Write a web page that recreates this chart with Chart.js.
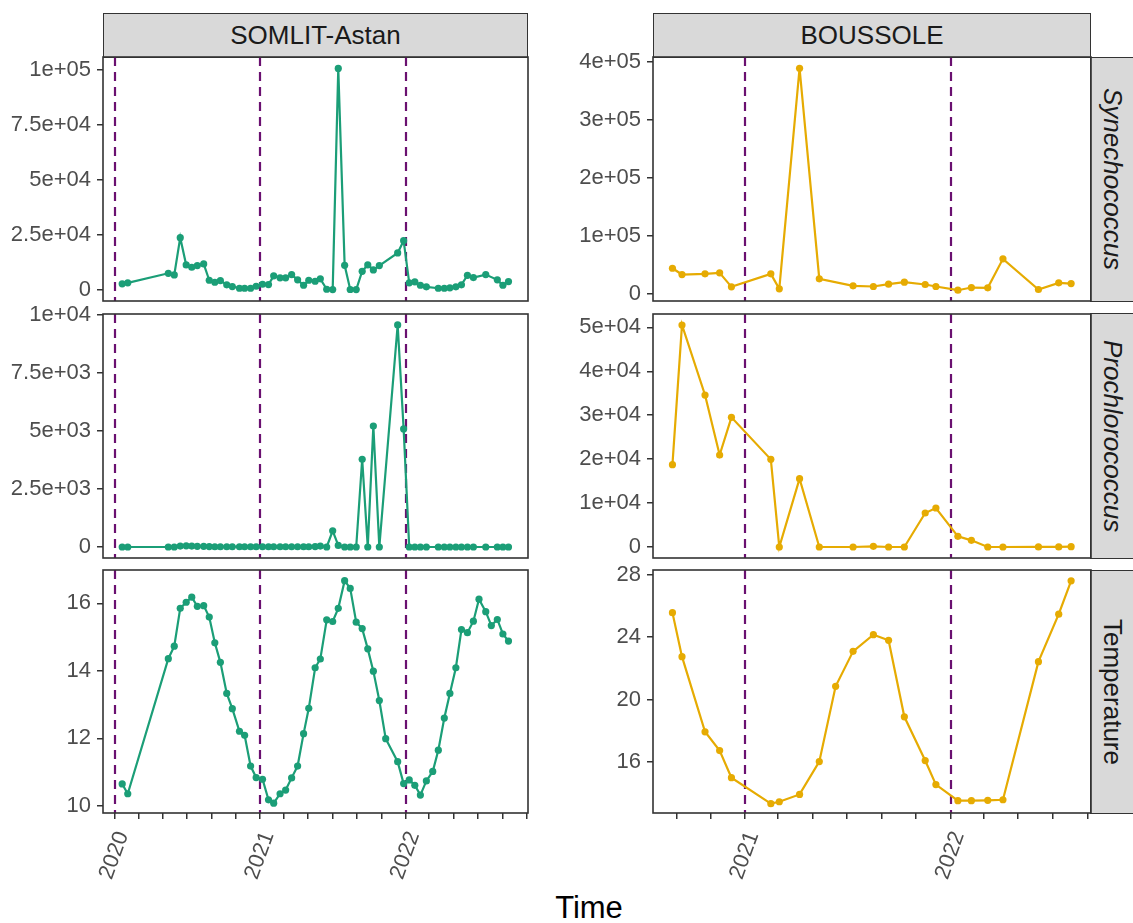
<!DOCTYPE html>
<html>
<head>
<meta charset="utf-8">
<script src="https://cdn.jsdelivr.net/npm/chart.js@4.4.0/dist/chart.umd.min.js"></script>
<style>
  body { margin: 0; background: #fff; width: 1133px; height: 923px; position: relative; overflow: hidden;
         font-family: 'Liberation Sans', Arial, sans-serif; }
  canvas { position: absolute; }
  .strip { position: absolute; background: #d9d9d9; border: 1.5px solid #333; box-sizing: border-box;
           color: #1a1a1a; font-size: 26px; display: flex; align-items: center; justify-content: center; }
  .strip.side span { writing-mode: vertical-rl; }
  .italic { font-style: italic; }
  #xtitle { position: absolute; left: 539px; width: 100px; top: 890px; text-align: center; font-size: 31px; color: #000; }
</style>
</head>
<body>

<div class="strip" style="left:103px; top:13px; width:425px; height:45px;">SOMLIT-Astan</div>
<div class="strip" style="left:653px; top:13px; width:438px; height:45px;">BOUSSOLE</div>
<div class="strip side" style="left:1090px; top:57px; width:45px; height:245px;"><span class="italic">Synechococcus</span></div>
<div class="strip side" style="left:1090px; top:313px; width:45px; height:246px;"><span class="italic">Prochlorococcus</span></div>
<div class="strip side" style="left:1090px; top:570px; width:45px; height:244px;"><span>Temperature</span></div>
<div id="xtitle">Time</div>

<canvas id="c-astan-syn"></canvas>
<canvas id="c-astan-pro"></canvas>
<canvas id="c-astan-temp"></canvas>
<canvas id="c-bous-syn"></canvas>
<canvas id="c-bous-pro"></canvas>
<canvas id="c-bous-temp"></canvas>

<script>
// --- data --- //
const astanDates = [
    '2020-01-20', '2020-02-03', '2020-05-15', '2020-05-30', '2020-06-14', '2020-06-29', '2020-07-13', '2020-07-27',
    '2020-08-12', '2020-08-26', '2020-09-09', '2020-09-23', '2020-10-09', '2020-10-23', '2020-11-10', '2020-11-23',
    '2020-12-08', '2020-12-22', '2021-01-07', '2021-01-22', '2021-02-04', '2021-02-20', '2021-03-06', '2021-03-21',
    '2021-04-05', '2021-04-20', '2021-05-03', '2021-05-19', '2021-06-01', '2021-06-17', '2021-07-02', '2021-07-16',
    '2021-08-01', '2021-08-15', '2021-08-30', '2021-09-14', '2021-09-28', '2021-10-12', '2021-10-27', '2021-11-12',
    '2021-12-12', '2021-12-27', '2022-01-10', '2022-01-24', '2022-02-07', '2022-02-22', '2022-03-10', '2022-03-24',
    '2022-04-08', '2022-04-22', '2022-05-07', '2022-05-21', '2022-06-05', '2022-06-20', '2022-07-04', '2022-07-21',
    '2022-08-04', '2022-08-19', '2022-09-02', '2022-09-16'
];
const astanSyn = [
    2720, 3180, 7530, 6800, 23730, 11340, 10260, 11030, 11800, 4360,
    3450, 4220, 2270, 1500, 730, 730, 730, 1630, 2540, 2400,
    6350, 5440, 5440, 6940, 4540, 2090, 4360, 3900, 4990, 270,
    100, 100700, 11160, 140, 100, 8440, 11340, 9070, 11030, null,
    16790, 22370, 3180, 3630, 2090, 1360, null, 730, 730, 910,
    1360, 2270, 6620, 5580, null, 6940, null, 4540, 2090, 3770
];
const astanPro = [
    0, 0, 0, 0, 40, 50, 40, 30, 30, 20,
    10, 10, 10, 10, 10, 10, 10, 10, 10, 10,
    10, 10, 10, 10, 10, 10, 10, 20, 40, 0,
    700, 70, 0, 0, 0, 3780, 0, 5215, 0, null,
    9570, 5090, 0, 0, 0, 0, null, 0, 0, 0,
    0, 0, 0, 0, null, 0, null, 0, 0, 0
];
const astanTemp = [
    10.65, 10.36, 14.36, 14.73, 15.85, 16.03, 16.18, 15.91, 15.93, 15.59,
    14.83, 14.25, 13.33, 12.88, 12.21, 12.09, 11.18, 10.84, 10.79, 10.18,
    10.08, 10.36, 10.47, 10.83, 11.18, 12.14, 12.89, 14.09, 14.35, 15.51,
    15.46, 15.85, 16.67, 16.44, 15.44, 15.25, 14.65, 13.99, 13.12, 11.99,
    11.31, 10.66, 10.77, 10.61, 10.32, 10.74, 11.02, 11.65, 12.60, 13.33,
    14.09, 15.22, 15.13, 15.47, 16.12, 15.75, 15.34, 15.52, 15.09, 14.88
];

const bousDates = [
    '2020-08-25', '2020-09-11', '2020-10-22', '2020-11-17', '2020-12-08', '2021-02-16', '2021-03-03', '2021-04-08',
    '2021-05-13', '2021-06-11', '2021-07-12', '2021-08-17', '2021-09-13', '2021-10-11', '2021-11-17', '2021-12-06',
    '2022-01-14', '2022-02-07', '2022-03-08', '2022-04-04', '2022-06-06', '2022-07-12', '2022-08-03'
];
const bousSyn = [
    44000, 33200, 34400, 36100, 12000, 34400, 8600, 388600, 25800, null, 13800, 12600,
    16600, 20000, 16000, 12600, 6200, 10800, 10300, 60200, 7400, 18900, 17700
];
const bousPro = [
    18740, 50520, 34590, 20940, 29510, 19950, 0, 15550, 0, null, 0, 150,
    0, 0, 7740, 8880, 2430, 1520, 0, 0, 30, 30, 80
];
const bousTemp = [
    25.56, 22.74, 17.93, 16.73, 14.99, 13.33, 13.45, 13.92, 16.02, 20.84, 23.08, 24.15,
    23.79, 18.89, 16.09, 14.55, 13.52, 13.52, 13.54, 13.58, 22.42, 25.46, 27.60
];

// tick labels
const astanSynTicks = ['0', '2.5e+04', '5e+04', '7.5e+04', '1e+05'];
const astanProTicks = ['0', '2.5e+03', '5e+03', '7.5e+03', '1e+04'];
const astanTempTicks = ['10', '12', '14', '16'];
const bousSynTicks = ['0', '1e+05', '2e+05', '3e+05', '4e+05'];
const bousProTicks = ['0', '1e+04', '2e+04', '3e+04', '4e+04', '5e+04'];
const bousTempTicks = ['16', '20', '24', '28'];
const astanYearMarks = ['2020-01-01', '2021-01-01', '2022-01-01'];
const bousYearMarks = ['2021-01-01', '2022-01-01'];

// --- helpers --- //
const toYear = s => {
    const d = Date.parse(s + 'T00:00:00Z');
    const y = Number(s.slice(0, 4));
    const start = Date.UTC(y, 0, 1), end = Date.UTC(y + 1, 0, 1);
    return y + (d - start) / (end - start);
};

// tick marks every 2 months, label on January
const monthTicks = (min, max) => {
    const out = [];
    for (let y = Math.floor(min); y <= Math.ceil(max); y++) {
        for (let m = 0; m < 12; m += 2) {
            const mm = String(m + 1).padStart(2, '0');
            const v = toYear(y + '-' + mm + '-01');
            if (v >= min && v <= max) out.push({ value: v, label: m === 0 ? String(y) : '' });
        }
    }
    return out;
};

const FONT = "'Liberation Sans', Arial, sans-serif";
const PAD = 16;
const YAXIS_W = 103;
const XAXIS_H = 80;

const cols = [
    { left: 103, right: 528, xMin: 2019.92, xMax: 2022.841, marks: astanYearMarks, color: '#1b9e77' },
    { left: 653, right: 1091, xMin: 2020.553, xMax: 2022.683, marks: bousYearMarks, color: '#e6ab02' }
];
const rows = [
    { top: 57, bottom: 301 },
    { top: 314, bottom: 558 },
    { top: 570, bottom: 813 }
];

const panelDecor = {
    id: 'panelDecor',
    beforeDatasetsDraw(chart, args, opts) {
        const { ctx, chartArea: a, scales: { x } } = chart;
        ctx.save();
        ctx.strokeStyle = '#6a1070';
        ctx.lineWidth = 2.2;
        ctx.setLineDash([9, 6]);
        opts.marks.forEach(m => {
            const px = Math.round(x.getPixelForValue(toYear(m)));
            ctx.beginPath();
            ctx.moveTo(px, a.top);
            ctx.lineTo(px, a.bottom);
            ctx.stroke();
        });
        ctx.restore();
    },
    afterDraw(chart) {
        const { ctx, chartArea: a } = chart;
        ctx.save();
        ctx.strokeStyle = '#333';
        ctx.lineWidth = 1.6;
        ctx.strokeRect(a.left, a.top, a.right - a.left, a.bottom - a.top);
        ctx.restore();
    }
};

function makePanel(id, colIdx, rowIdx, dates, values, tickLabels, yMin, yMax) {
    const col = cols[colIdx], row = rows[rowIdx];
    const showX = rowIdx === 2;
    const canvas = document.getElementById(id);
    const left = col.left - YAXIS_W;
    const top = row.top - PAD;
    const width = col.right + 4 - left;
    const height = PAD + (row.bottom - row.top) + (showX ? XAXIS_H : PAD);
    canvas.width = width;
    canvas.height = height;
    canvas.style.left = left + 'px';
    canvas.style.top = top + 'px';

    const xTicks = monthTicks(col.xMin, col.xMax);
    const points = dates.map((d, i) => ({ x: toYear(d), y: values[i] }));

    new Chart(canvas.getContext('2d'), {
        type: 'line',
        data: {
            datasets: [{
                data: points,
                borderColor: col.color,
                backgroundColor: col.color,
                borderWidth: 2.2,
                pointRadius: 3.6,
                pointBorderWidth: 0,
                pointHoverRadius: 3.6,
                spanGaps: true,
                tension: 0
            }]
        },
        options: {
            responsive: false,
            animation: false,
            devicePixelRatio: 1,
            layout: { padding: { top: PAD, right: 4, bottom: showX ? 0 : PAD, left: 0 } },
            plugins: {
                legend: { display: false },
                tooltip: { enabled: false },
                panelDecor: { marks: col.marks }
            },
            scales: {
                x: {
                    type: 'linear',
                    display: showX,
                    min: col.xMin,
                    max: col.xMax,
                    afterBuildTicks: s => { s.ticks = xTicks.map(t => ({ value: t.value })); },
                    afterFit: s => {
                        s.height = showX ? XAXIS_H : 0;
                        s.paddingLeft = 0;
                        s.paddingRight = 0;
                    },
                    border: { display: false },
                    grid: { drawOnChartArea: false, drawTicks: true, tickLength: 6, color: '#333', lineWidth: 1.5 },
                    ticks: {
                        autoSkip: false,
                        minRotation: 70,
                        maxRotation: 70,
                        padding: 9,
                        labelOffset: 8,
                        color: '#4d4d4d',
                        font: { family: FONT, size: 22 },
                        callback: (v, i) => xTicks[i] ? xTicks[i].label : ''
                    }
                },
                y: {
                    type: 'linear',
                    min: yMin,
                    max: yMax,
                    afterBuildTicks: s => { s.ticks = tickLabels.map(l => ({ value: Number(l) })); },
                    afterFit: s => {
                        s.width = YAXIS_W;
                        s.paddingTop = 0;
                        s.paddingBottom = 0;
                    },
                    border: { display: false },
                    grid: { drawOnChartArea: false, drawTicks: true, tickLength: 6, color: '#333', lineWidth: 1.5 },
                    ticks: {
                        padding: 6,
                        color: '#4d4d4d',
                        font: { family: FONT, size: 22 },
                        callback: (v, i) => tickLabels[i]
                    }
                }
            }
        },
        plugins: [panelDecor]
    });
}

makePanel('c-astan-syn', 0, 0, astanDates, astanSyn, astanSynTicks, -5080, 105900);
makePanel('c-astan-pro', 0, 1, astanDates, astanPro, astanProTicks, -474, 10043);
makePanel('c-astan-temp', 0, 2, astanDates, astanTemp, astanTempTicks, 9.79, 16.985);
makePanel('c-bous-syn', 1, 0, bousDates, bousSyn, bousSynTicks, -12400, 408000);
makePanel('c-bous-pro', 1, 1, bousDates, bousPro, bousProTicks, -2500, 53030);
makePanel('c-bous-temp', 1, 2, bousDates, bousTemp, bousTempTicks, 12.73, 28.29);
</script>
</body>
</html>
